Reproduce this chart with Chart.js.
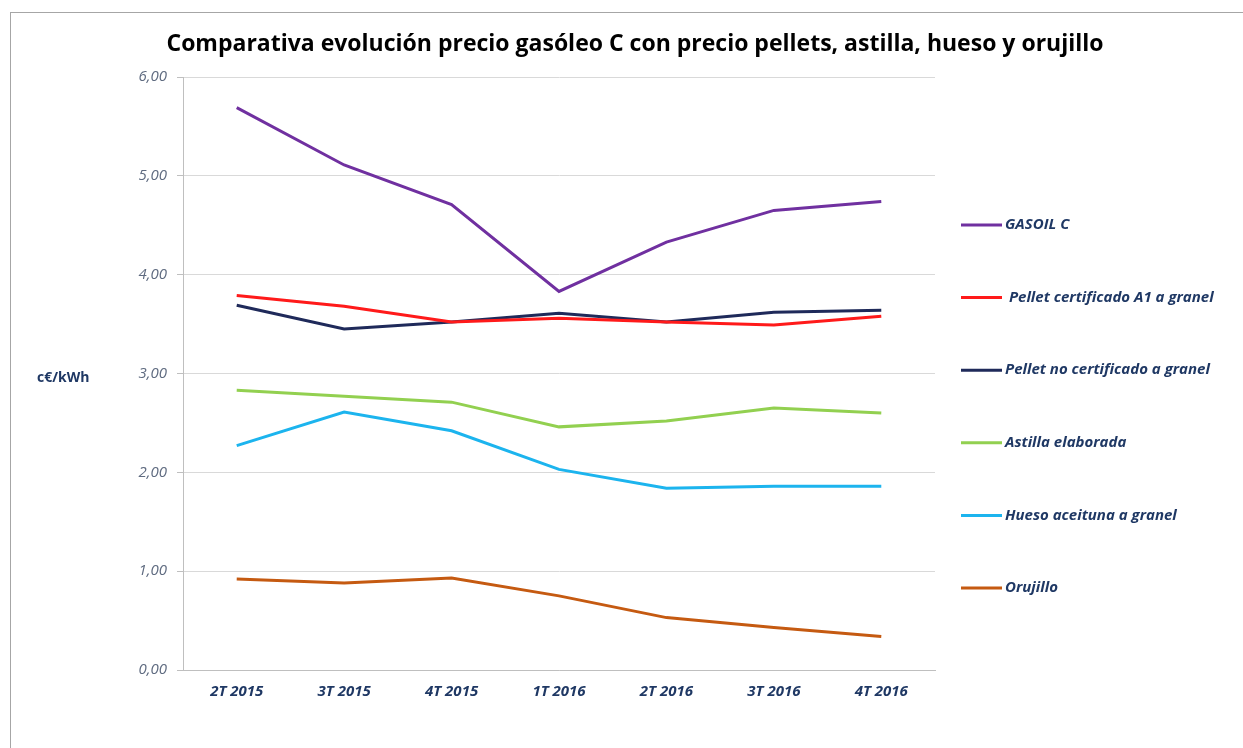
<!DOCTYPE html>
<html>
<head>
<meta charset="utf-8">
<script src="https://cdn.jsdelivr.net/npm/chart.js@4.4.0/dist/chart.umd.min.js"></script>
<style>
    html, body { margin: 0; padding: 0; background: #fff; overflow: hidden; }
    #wrap { position: relative; width: 1243px; height: 748px; }
    #frame { position: absolute; left: 10px; top: 12px; width: 1300px; height: 800px; border: 1px solid #a6a6a6; box-sizing: border-box; }
    #chart { position: absolute; left: 0; top: 0; }
</style>
</head>
<body>
<div id="wrap">
    <div id="frame"></div>
    <canvas id="chart" width="1243" height="748"></canvas>
</div>
<script>
// Data (c€/kWh)
const categories = ['2T 2015', '3T 2015', '4T 2015', '1T 2016', '2T 2016', '3T 2016', '4T 2016'];
const gasoil = [5.69, 5.11, 4.71, 3.83, 4.33, 4.65, 4.74];
const pelletA1 = [3.79, 3.68, 3.52, 3.56, 3.52, 3.49, 3.58];
const pelletNoCert = [3.69, 3.45, 3.52, 3.61, 3.52, 3.62, 3.64];
const astilla = [2.83, 2.77, 2.71, 2.46, 2.52, 2.65, 2.60];
const hueso = [2.27, 2.61, 2.42, 2.03, 1.84, 1.86, 1.86];
const orujillo = [0.92, 0.88, 0.93, 0.75, 0.53, 0.43, 0.34];
const seriesNames = ['GASOIL C', ' Pellet certificado A1 a granel', 'Pellet no certificado a granel', 'Astilla elaborada', 'Hueso aceituna a granel', 'Orujillo'];
const seriesColors = ['#7030a0', '#ff1a1a', '#1f2a5a', '#92d050', '#1cb4ee', '#c55a11'];
const titleText = 'Comparativa evolución precio gasóleo C con precio pellets, astilla, hueso y orujillo';
const yTitle = 'c€/kWh';

const navy = '#1f3864';

// Title, y label and legend drawn by hand
const extraText = {
    id: 'extraText',
    afterDraw(chart) {
        const ctx = chart.ctx;
        ctx.save();
        ctx.fillStyle = '#000';
        ctx.font = 'bold 23px "Open Sans", sans-serif';
        ctx.textAlign = 'center';
        ctx.textBaseline = 'middle';
        ctx.fillText(titleText, 635, 44);

        ctx.fillStyle = navy;
        ctx.font = 'bold 14px "Open Sans", sans-serif';
        ctx.textAlign = 'left';
        ctx.fillText(yTitle, 37, 378);

        ctx.font = 'italic bold 15px "Open Sans", sans-serif';
        chart.data.datasets.forEach((ds, i) => {
            const y = 225 + i * 72.6;
            ctx.strokeStyle = ds.borderColor;
            ctx.lineWidth = 3;
            ctx.beginPath();
            ctx.moveTo(961, y);
            ctx.lineTo(1002, y);
            ctx.stroke();
            ctx.fillStyle = navy;
            ctx.fillText(ds.label, 1005, y);
        });
        ctx.restore();
    }
};

const allSeries = [gasoil, pelletA1, pelletNoCert, astilla, hueso, orujillo];

new Chart(document.getElementById('chart').getContext('2d'), {
    type: 'line',
    data: {
        labels: categories,
        datasets: allSeries.map((values, i) => ({
            label: seriesNames[i],
            data: values,
            borderColor: seriesColors[i],
            backgroundColor: seriesColors[i],
            borderWidth: 3,
            pointRadius: 0,
            tension: 0
        }))
    },
    options: {
        responsive: false,
        animation: false,
        layout: { padding: { left: 10, right: 308, top: 77, bottom: 38 } },
        plugins: {
            legend: { display: false },
            title: { display: false },
            tooltip: { enabled: false }
        },
        scales: {
            x: {
                offset: true,
                afterFit: (scale) => { scale.height = 40; },
                grid: { display: false, drawTicks: false },
                border: { color: '#bfbfbf', width: 1 },
                ticks: {
                    color: navy,
                    padding: 13,
                    font: { family: '"Open Sans", sans-serif', size: 15, style: 'italic', weight: 'bold' }
                }
            },
            y: {
                min: 0,
                max: 6,
                afterFit: (scale) => { scale.width = 173; },
                grid: { color: '#d9d9d9', tickLength: 6, tickColor: '#bfbfbf' },
                border: { color: '#bfbfbf' },
                ticks: {
                    stepSize: 1,
                    color: '#5f6b80',
                    padding: 10,
                    font: { family: '"Open Sans", sans-serif', size: 15, style: 'italic' },
                    callback: (v) => v.toFixed(2).replace('.', ',')
                }
            }
        }
    },
    plugins: [extraText]
});
</script>
</body>
</html>
